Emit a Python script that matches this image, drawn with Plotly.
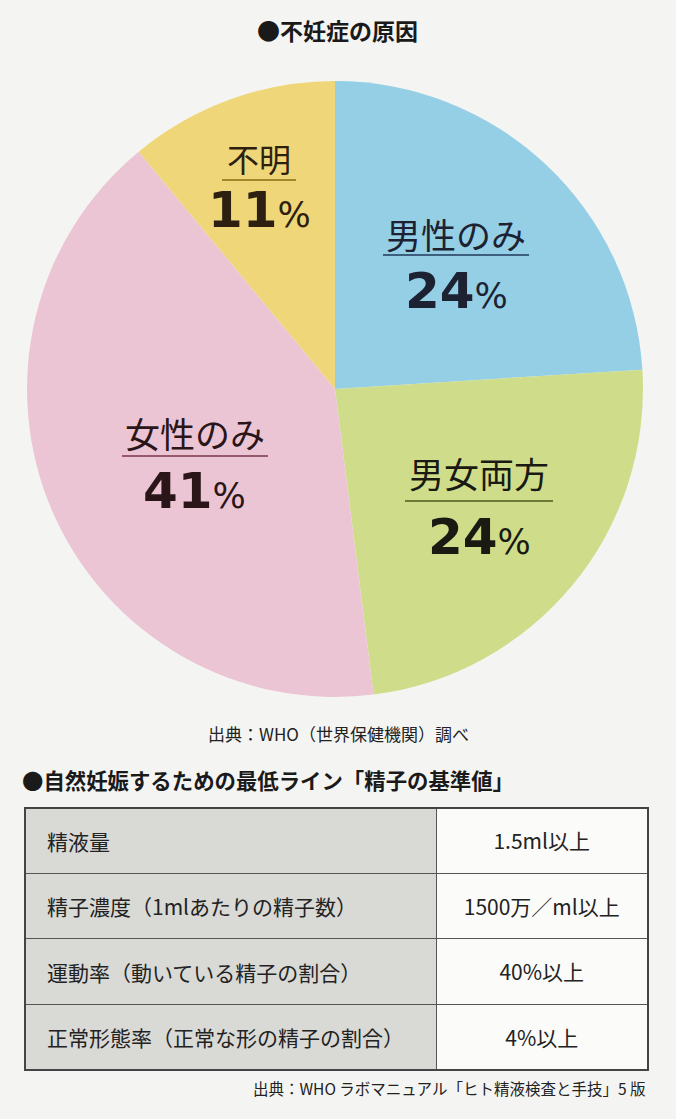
import plotly.graph_objects as go

# 不妊症の原因 (WHO)
labels = ["男性のみ", "男女両方", "女性のみ", "不明"]
values = [24, 24, 41, 11]
colors = ["#94cfe6", "#cfdd8b", "#ecc5d4", "#efd779"]
text_colors = ["#1d2233", "#1a1a12", "#2a1518", "#2e2010"]
rule_colors = ["#203a5a", "#4a5a18", "#7a3348", "#8a6a14"]

# 精子の基準値
items = ["精液量", "精子濃度（1mlあたりの精子数）", "運動率（動いている精子の割合）", "正常形態率（正常な形の精子の割合）"]
limits = ["1.5ml以上", "1500万／ml以上", "40%以上", "4%以上"]

W, H = 676, 1119
FONT = "Noto Sans CJK JP"
NUM_FONT = "DejaVu Sans"
BG = "#f4f5f3"
COL_W = [412, 211]


def px(x):
    return x / W


def py(y):
    return 1 - y / H


fig = go.Figure()

fig.add_trace(go.Pie(
    labels=labels, values=values, sort=False, direction="clockwise", rotation=0,
    marker=dict(colors=colors, line=dict(width=0)),
    textinfo="none", hoverinfo="label+percent", showlegend=False,
    domain=dict(x=[px(27), px(643)], y=[py(698), py(80)]),
))

# ラベル位置 (中心x, 名前y, 線y, 数字y, 線の半幅, 名前サイズ)
label_pos = [(456, 233, 255, 291, 73, 35), (479, 472, 501, 537, 74, 35),
             (195, 432, 456, 491, 73, 35), (259, 158, 180, 210, 37, 32)]

for i, (cx, ny, ly, vy, hw, fs) in enumerate(label_pos):
    fig.add_annotation(x=px(cx), y=py(ny), xref="paper", yref="paper", xanchor="center", yanchor="middle",
                       text=labels[i], showarrow=False,
                       font=dict(family=FONT, size=fs, color=text_colors[i]))
    fig.add_annotation(x=px(cx), y=py(vy), xref="paper", yref="paper", xanchor="center", yanchor="middle",
                       text="<b>%d</b><span style='font-size:35px;font-weight:500'>%%</span>" % values[i],
                       showarrow=False, font=dict(family=NUM_FONT, size=50, color=text_colors[i]))
    fig.add_shape(type="line", xref="paper", yref="paper", x0=px(cx - hw), x1=px(cx + hw),
                  y0=py(ly), y1=py(ly), line=dict(color=rule_colors[i], width=1.5))

fig.add_annotation(x=px(337), y=py(30), xref="paper", yref="paper", xanchor="center", yanchor="middle",
                   text="<b>●不妊症の原因</b>", showarrow=False,
                   font=dict(family=FONT, size=23, color="#1a1a1a"))
fig.add_annotation(x=px(339), y=py(733), xref="paper", yref="paper", xanchor="center", yanchor="middle",
                   text="出典：WHO（世界保健機関）調べ", showarrow=False,
                   font=dict(family=FONT, size=17, color="#222"))
fig.add_annotation(x=px(20), y=py(779), xref="paper", yref="paper", xanchor="left", yanchor="middle",
                   text="<b>●自然妊娠するための最低ライン「精子の基準値」</b>", showarrow=False,
                   font=dict(family=FONT, size=21.4, color="#1a1a1a"))
fig.add_annotation(x=px(648), y=py(1088), xref="paper", yref="paper", xanchor="right", yanchor="middle",
                   text="出典：WHO ラボマニュアル「ヒト精液検査と手技」5 版", showarrow=False,
                   font=dict(family=FONT, size=15.5, color="#222"))

# 表 (積み上げ横棒でセルを描く)
n = len(items)
fig.add_trace(go.Bar(y=items, x=[COL_W[0]] * n, orientation="h",
                     marker=dict(color="#d9d9d6", line=dict(color="#555", width=1.5)),
                     hoverinfo="skip", showlegend=False, xaxis="x", yaxis="y"))
fig.add_trace(go.Bar(y=items, x=[COL_W[1]] * n, orientation="h",
                     marker=dict(color="#fbfbfa", line=dict(color="#555", width=1.5)),
                     text=limits, textposition="inside", insidetextanchor="middle", textangle=0,
                     insidetextfont=dict(family=FONT, size=21, color="#222"),
                     hoverinfo="skip", showlegend=False, xaxis="x", yaxis="y"))
for it in items:
    fig.add_annotation(x=20, y=it, xref="x", yref="y", xanchor="left", yanchor="middle", text=it,
                       showarrow=False, font=dict(family=FONT, size=21, color="#222"))
fig.add_shape(type="rect", xref="x domain", yref="y domain", x0=0, x1=1, y0=0, y1=1,
              line=dict(color="#444", width=2))

fig.update_layout(
    width=W, height=H, margin=dict(l=0, r=0, t=0, b=0),
    paper_bgcolor=BG, plot_bgcolor="rgba(0,0,0,0)", font=dict(family=FONT),
    barmode="stack", bargap=0,
    xaxis=dict(domain=[px(25), px(648)], range=[0, sum(COL_W)], visible=False, fixedrange=True),
    yaxis=dict(domain=[py(1070), py(808)], range=[n - 0.5, -0.5], visible=False, fixedrange=True),
)

fig.write_html("out.html", config={"displayModeBar": False},
               post_script="document.body.style.margin='0';document.body.style.background='#f4f5f3';")
